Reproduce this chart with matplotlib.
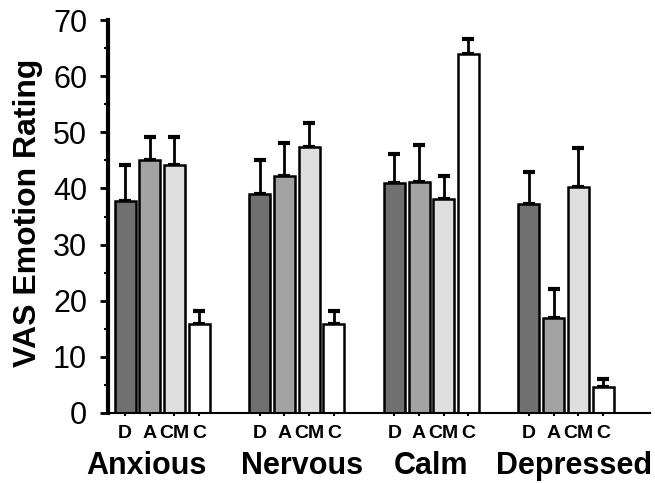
import matplotlib
matplotlib.use("Agg")
import matplotlib.pyplot as plt
import numpy as np

plt.rcParams['font.family'] = ['Liberation Sans', 'DejaVu Sans']

emotions = ["Anxious", "Nervous", "Calm", "Depressed"]
conditions = ["D", "A", "CM", "C"]
means = {
    "D":  [37.8, 39.0, 41.0, 37.3],
    "A":  [45.1, 42.2, 41.2, 16.9],
    "CM": [44.2, 47.4, 38.1, 40.3],
    "C":  [15.9, 15.9, 64.0, 4.6],
}
errors = {
    "D":  [6.4, 6.1, 5.2, 5.6],
    "A":  [4.1, 5.9, 6.6, 5.2],
    "CM": [5.0, 4.3, 4.1, 6.9],
    "C":  [2.3, 2.3, 2.7, 1.5],
}
colors = {"D": "#707070", "A": "#a3a3a3", "CM": "#dedede", "C": "#ffffff"}
y_ticks = [0, 10, 20, 30, 40, 50, 60, 70]

fig = plt.figure(figsize=(6.55, 4.83), dpi=100)
ax = fig.add_axes([108/655, (483-413)/483, (650-108)/655, (413-20)/483])

group_gap = 5.45
xt, xl = [], []
for i, c in enumerate(conditions):
    x = np.arange(len(emotions)) * group_gap + i
    ax.bar(x, means[c], width=0.85, color=colors[c], edgecolor="black", linewidth=1.8, zorder=2)
    ax.errorbar(x, means[c], yerr=[np.zeros(len(emotions)), errors[c]], fmt="none",
                ecolor="black", elinewidth=2, capsize=4, capthick=3, zorder=1)
    xt.extend(x)
    xl.extend([c] * len(emotions))

ax.set_xlim(-0.69, 21.25)
ax.set_ylim(0, 70)
ax.set_yticks(y_ticks)
ax.set_yticks(np.arange(5, 70, 10), minor=True)
ax.set_yticklabels([str(v) for v in y_ticks], fontsize=22)
ax.tick_params(axis="y", which="major", length=6, width=2, pad=9)
ax.tick_params(axis="y", which="minor", length=3, width=1.5)
ax.set_xticks(xt)
ax.set_xticklabels(xl, fontsize=14, fontweight="bold")
ax.tick_params(axis="x", length=2, width=1.5, pad=7)

for s in ["top", "right"]:
    ax.spines[s].set_visible(False)
ax.spines["left"].set_linewidth(3)
ax.spines["bottom"].set_linewidth(1.5)

label_shift = [-0.65, 0.2, 0.0, 0.32]
for g, e in enumerate(emotions):
    ax.text(g * group_gap + 1.5 + label_shift[g], -0.155, e, transform=ax.get_xaxis_transform(),
            ha="center", va="baseline", fontsize=22, fontweight="bold")

ax.set_ylabel("VAS Emotion Rating", fontsize=23, fontweight="bold")
ax.yaxis.set_label_coords(-0.12, 0.51)

fig.savefig("out.png", dpi=100)
